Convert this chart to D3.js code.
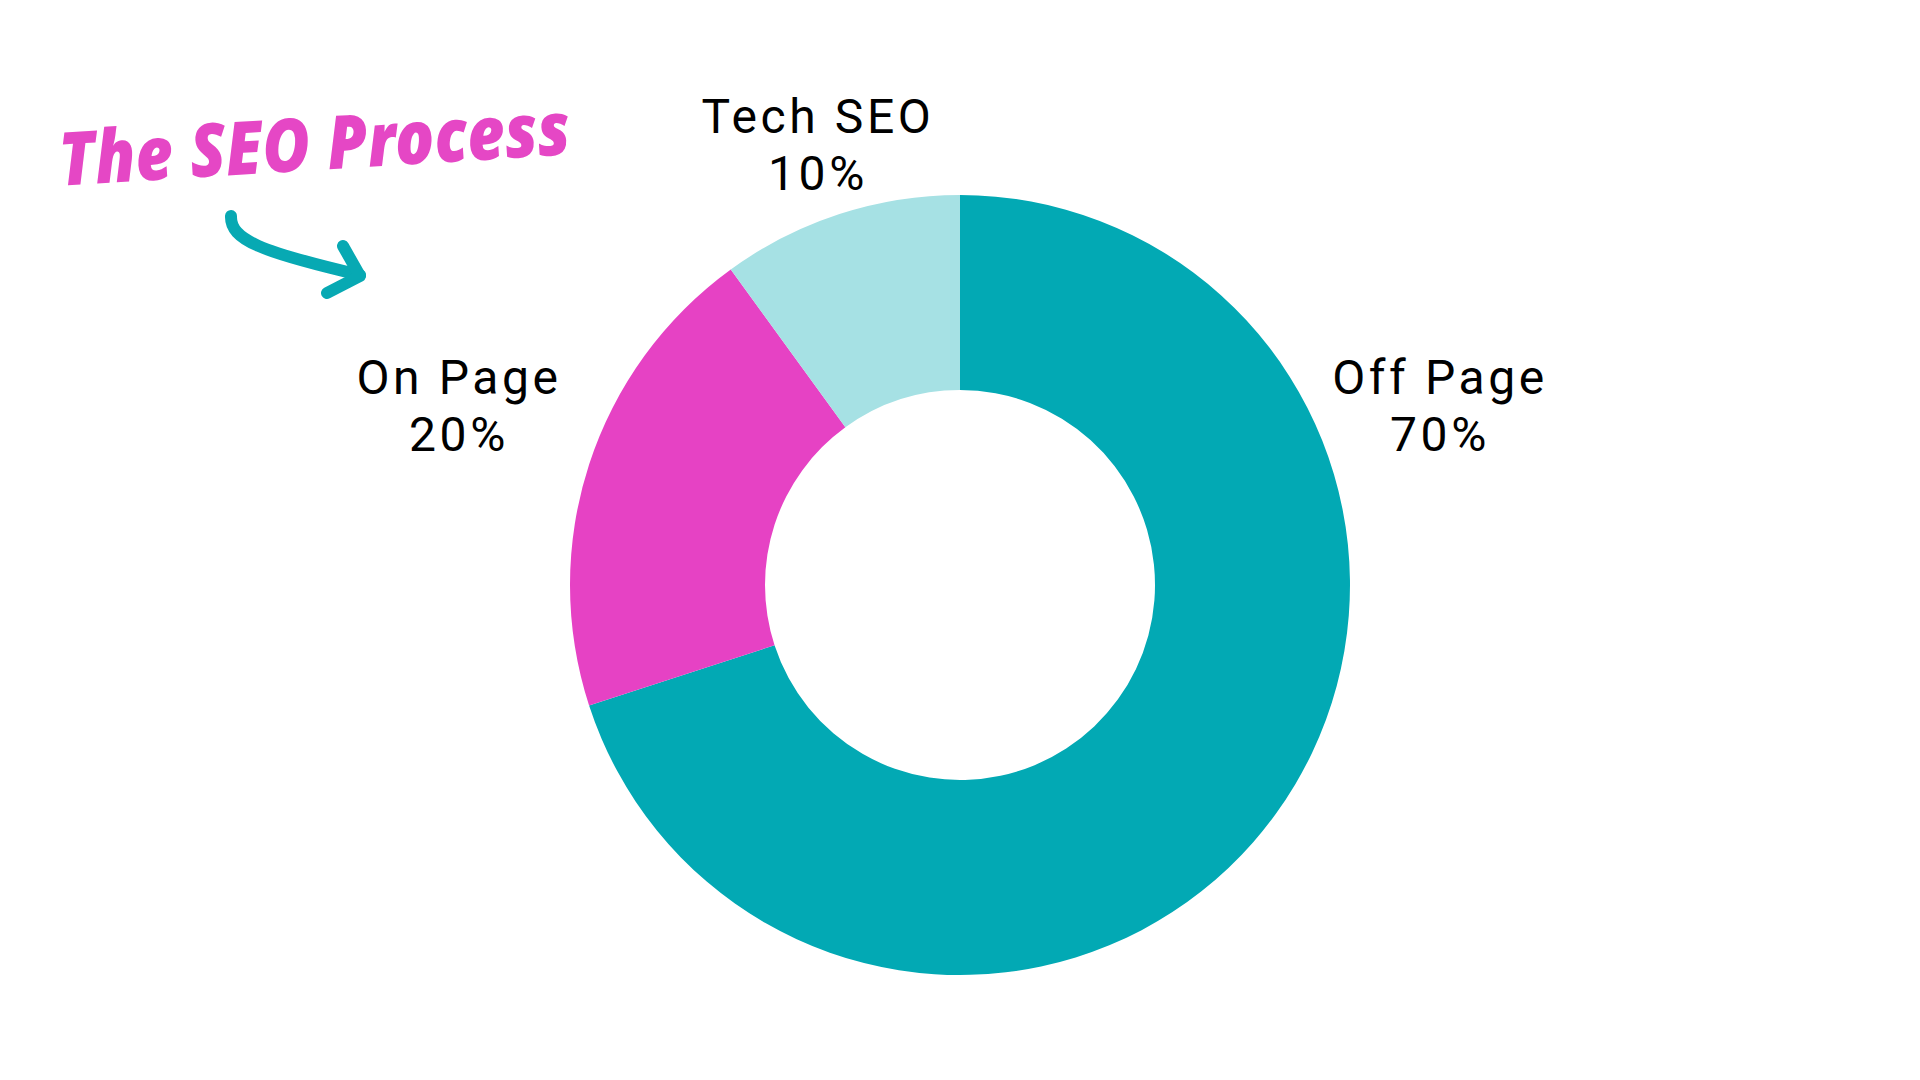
<!DOCTYPE html>
<html>
<head>
<meta charset="utf-8">
<script src="https://cdn.jsdelivr.net/npm/d3@7"></script>
<style>
  html, body { margin: 0; padding: 0; background: #ffffff; }
  svg { display: block; }
</style>
</head>
<body>
<div id="chart"></div>
<script>
// ---- data ----
const categories = ["Off Page", "On Page", "Tech SEO"];
const values = [70, 20, 10];
const percentLabels = ["70%", "20%", "10%"];
const sliceColors = ["#02A9B4", "#E642C4", "#A6E1E4"];
const titleText = "The SEO Process";

// ---- layout ----
const W = 1920, H = 1080;
const cx = 960, cy = 585;
const outerR = 390, innerR = 195;

const svg = d3.select("#chart").append("svg")
  .attr("width", W).attr("height", H)
  .attr("viewBox", `0 0 ${W} ${H}`);

const data = categories.map((c, i) => ({ category: c, value: values[i], pct: percentLabels[i] }));

const color = d3.scaleOrdinal().domain(categories).range(sliceColors);

const pie = d3.pie().value(d => d.value).sort(null);
const arc = d3.arc().innerRadius(innerR).outerRadius(outerR);

const g = svg.append("g").attr("transform", `translate(${cx},${cy})`);
g.selectAll("path.slice")
  .data(pie(data))
  .join("path")
  .attr("class", "slice")
  .attr("d", arc)
  .attr("fill", d => color(d.data.category));

// label anchors (x center, first baseline) on the page
const labelAnchor = {
  "Off Page": [1440, 394],
  "On Page": [459, 394],
  "Tech SEO": [818, 133]
};
const lineGap = 57;

const labels = svg.append("g")
  .attr("font-family", "Roboto, 'Liberation Sans', sans-serif")
  .attr("font-size", 48)
  .attr("letter-spacing", "3.6px")
  .attr("fill", "#000")
  .attr("text-anchor", "middle");

data.forEach(d => {
  const [x, y] = labelAnchor[d.category];
  labels.append("text").attr("x", x).attr("y", y).text(d.category);
  labels.append("text").attr("x", x).attr("y", y + lineGap).text(d.pct);
});

// ---- title ----
svg.append("text")
  .attr("transform", "translate(316,170) rotate(-3.5)")
  .attr("text-anchor", "middle")
  .attr("font-family", "'Noto Sans', 'DejaVu Sans', sans-serif")
  .attr("font-style", "italic")
  .attr("font-weight", 900)
  .attr("font-size", 74)
  .attr("fill", "#E547C5")
  .attr("textLength", 512)
  .attr("lengthAdjust", "spacingAndGlyphs")
  .text(titleText);

// ---- arrow ----
const arrowColor = "#07A9B3";
const shaft = d3.path();
shaft.moveTo(231, 216);
shaft.bezierCurveTo(230, 240, 262, 252, 360, 275);
svg.append("path")
  .attr("d", shaft.toString())
  .attr("fill", "none")
  .attr("stroke", arrowColor)
  .attr("stroke-width", 12)
  .attr("stroke-linecap", "round");
svg.append("path")
  .attr("d", d3.line()([[343, 246], [360, 276], [327, 293]]))
  .attr("fill", "none")
  .attr("stroke", arrowColor)
  .attr("stroke-width", 12)
  .attr("stroke-linecap", "round")
  .attr("stroke-linejoin", "round");
</script>
</body>
</html>
